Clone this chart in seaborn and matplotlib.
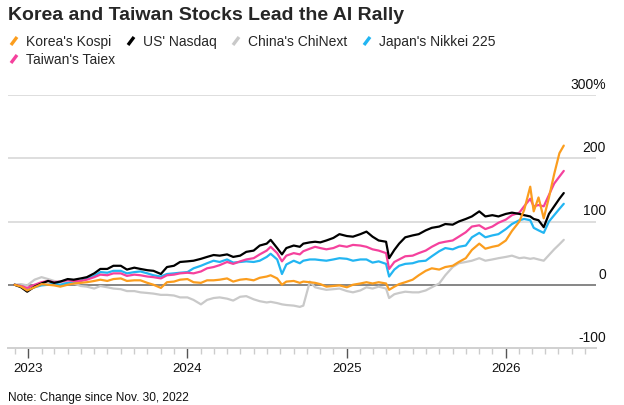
import matplotlib
matplotlib.use("Agg")
import matplotlib.pyplot as plt
import matplotlib.dates as mdates
from matplotlib.lines import Line2D
import pandas as pd
import seaborn as sns

# Change since Nov. 30, 2022, in percent
dates = [
    "2022-11-30", "2022-12-15", "2022-12-29", "2023-01-15", "2023-01-31", "2023-02-15",
    "2023-03-01", "2023-03-15", "2023-04-01", "2023-04-15", "2023-05-01", "2023-05-15",
    "2023-06-01", "2023-06-15", "2023-07-01", "2023-07-15", "2023-08-01", "2023-08-15",
    "2023-09-01", "2023-09-15", "2023-10-01", "2023-10-15", "2023-11-01", "2023-11-15",
    "2023-12-01", "2023-12-15", "2024-01-01", "2024-01-15", "2024-02-01", "2024-02-15",
    "2024-03-01", "2024-03-15", "2024-04-01", "2024-04-15", "2024-05-01", "2024-05-15",
    "2024-06-01", "2024-06-15", "2024-07-01", "2024-07-10", "2024-07-25", "2024-08-05",
    "2024-08-15", "2024-09-01", "2024-09-15", "2024-09-23", "2024-10-08", "2024-10-20",
    "2024-11-01", "2024-11-15", "2024-12-01", "2024-12-15", "2025-01-01", "2025-01-15",
    "2025-02-01", "2025-02-15", "2025-03-01", "2025-03-15", "2025-04-01", "2025-04-08",
    "2025-04-20", "2025-05-01", "2025-05-15", "2025-06-01", "2025-06-15", "2025-07-01",
    "2025-07-15", "2025-08-01", "2025-08-15", "2025-09-01", "2025-09-15", "2025-10-01",
    "2025-10-15", "2025-11-01", "2025-11-15", "2025-12-01", "2025-12-15", "2026-01-01",
    "2026-01-15", "2026-02-01", "2026-02-12", "2026-02-26", "2026-03-06", "2026-03-17",
    "2026-03-29", "2026-04-10", "2026-04-22", "2026-05-04", "2026-05-14",
]

nasdaq = [
    0, -4, -11, -3, 2, 6, 3, 5, 9, 8, 10, 12,
    18, 25, 25, 30, 30, 24, 27, 25, 23, 22, 17, 28,
    30, 36, 37, 38, 41, 44, 47, 46, 48, 44, 46, 52,
    54, 62, 65, 71, 58, 48, 58, 62, 60, 65, 67, 68,
    67, 70, 74, 80, 77, 76, 80, 84, 76, 70, 68, 42,
    55, 65, 75, 78, 80, 86, 90, 92, 96, 95, 100, 104,
    108, 116, 108, 110, 108, 112, 114, 112, 110, 108, 104, 102,
    91, 112, 124, 136, 145,
]

taiex = [
    0, -2, -5, 0, 4, 6, 4, 5, 7, 6, 6, 8,
    12, 16, 15, 18, 18, 14, 16, 15, 13, 12, 10, 15,
    16, 18, 19, 18, 21, 26, 28, 31, 36, 33, 37, 40,
    42, 48, 54, 60, 50, 37, 46, 50, 48, 53, 57, 60,
    58, 56, 58, 62, 60, 63, 62, 60, 56, 54, 50, 25,
    36, 40, 45, 46, 50, 54, 60, 66, 68, 70, 76, 83,
    92, 94, 88, 92, 98, 103, 110, 114, 124, 136, 124, 126,
    124, 142, 160, 171, 180,
]

nikkei = [
    0, -2, -8, -4, -1, 0, 2, 0, 3, 4, 6, 10,
    14, 20, 19, 22, 22, 18, 20, 21, 18, 15, 13, 17,
    18, 19, 20, 26, 30, 34, 38, 36, 40, 35, 36, 37,
    36, 38, 44, 49, 40, 17, 32, 38, 34, 38, 40, 40,
    39, 38, 40, 42, 41, 38, 40, 40, 35, 37, 33, 13,
    24, 30, 33, 34, 37, 38, 45, 53, 58, 56, 60, 62,
    75, 82, 75, 78, 80, 88, 96, 102, 104, 102, 90, 86,
    82, 100, 110, 120, 128,
]

kospi = [
    0, -3, -9, -4, 1, 0, -1, -3, 0, 2, 3, 4,
    6, 8, 6, 9, 10, 6, 7, 7, 3, 0, -5, 4,
    5, 8, 9, 4, 3, 7, 7, 8, 10, 5, 8, 9,
    7, 11, 13, 15, 10, 0, 5, 6, 3, 5, 4, 3,
    1, -3, -2, -1, -4, 0, 2, 4, 2, 4, 2, -8,
    -3, 1, 4, 8, 15, 22, 26, 24, 28, 30, 36, 42,
    55, 65, 57, 60, 62, 70, 85, 100, 118, 155, 116, 138,
    105, 138, 175, 208, 220,
]

chinext = [
    0, 1, -1, 8, 12, 9, 6, 4, 3, 2, -2, -3,
    -6, -2, -4, -6, -7, -10, -10, -12, -13, -14, -16, -16,
    -17, -20, -20, -24, -31, -24, -21, -20, -22, -25, -19, -18,
    -23, -26, -28, -27, -29, -31, -32, -33, -35, -33, 5, -4,
    -6, -8, -7, -6, -10, -12, -9, -4, -6, -3, -6, -21,
    -15, -13, -11, -12, -12, -9, -4, 2, 15, 28, 34, 36,
    38, 42, 38, 40, 42, 44, 46, 42, 43, 41, 42, 40,
    38, 47, 56, 64, 71,
]

legend_order = ["Korea's Kospi", "US' Nasdaq", "China's ChiNext", "Japan's Nikkei 225", "Taiwan's Taiex"]
draw_order = ["China's ChiNext", "Japan's Nikkei 225", "Taiwan's Taiex", "US' Nasdaq", "Korea's Kospi"]
palette = {
    "Korea's Kospi": "#fb9d1e",
    "US' Nasdaq": "#000000",
    "China's ChiNext": "#c9c9c9",
    "Japan's Nikkei 225": "#22b5f2",
    "Taiwan's Taiex": "#f5419d",
}

wide = pd.DataFrame({
    "date": pd.to_datetime(dates),
    "Korea's Kospi": kospi,
    "US' Nasdaq": nasdaq,
    "China's ChiNext": chinext,
    "Japan's Nikkei 225": nikkei,
    "Taiwan's Taiex": taiex,
})
df = wide.melt(id_vars="date", var_name="index", value_name="change")

sns.set_style("white")
plt.rcParams["font.family"] = ["Liberation Sans", "DejaVu Sans"]

W, H = 624, 406
fig = plt.figure(figsize=(W / 100, H / 100), dpi=100)
ax = fig.add_axes([8 / W, 1 - 349 / H, 588 / W, (349 - 96) / H])

# gridlines first so the series sit on top
for v in [100, 200, 300]:
    ax.axhline(v, color="#dedede", lw=1.4, zorder=0)
ax.axhline(0, color="#666666", lw=1.1, zorder=1)

sns.lineplot(data=df, x="date", y="change", hue="index", hue_order=draw_order,
             palette=palette, linewidth=1.6, legend=False, ax=ax, zorder=3)

ax.set_ylim(-100, 300)
ax.set_xlim(pd.Timestamp("2022-11-15"), pd.Timestamp("2026-07-27"))
ax.set_xlabel("")
ax.set_ylabel("")
ax.set_yticks([])

for s in ["top", "right", "left"]:
    ax.spines[s].set_visible(False)
ax.spines["bottom"].set_color("#d0d0d0")
ax.spines["bottom"].set_linewidth(1.4)

ax.xaxis.set_major_locator(mdates.YearLocator())
ax.xaxis.set_major_formatter(mdates.DateFormatter("%Y"))
ax.xaxis.set_minor_locator(mdates.MonthLocator())
ax.tick_params(axis="x", which="major", length=7, width=1, color="#555555",
               labelsize=9.5, pad=3, bottom=True, labelcolor="#111111")
ax.tick_params(axis="x", which="minor", length=4, width=1, color="#cccccc", bottom=True)

# right-side value labels sitting above their gridlines
ylabels = {300: "300%", 200: "200", 100: "100", 0: "0", -100: "-100"}
for v, lab in ylabels.items():
    ax.annotate(lab, xy=(1.017, v), xycoords=("axes fraction", "data"),
                xytext=(0, 3), textcoords="offset points",
                ha="right", va="bottom", fontsize=10, color="#111111")

fig.text(8 / W, 1 - 15 / H, "Korea and Taiwan Stocks Lead the AI Rally",
         fontsize=14, fontweight="bold", va="center", ha="left")

# legend with slanted swatches
legend_pos = {
    "Korea's Kospi": (10, 42),
    "US' Nasdaq": (127, 42),
    "China's ChiNext": (232, 42),
    "Japan's Nikkei 225": (363, 42),
    "Taiwan's Taiex": (10, 60),
}
for name in legend_order:
    px, py = legend_pos[name]
    fig.add_artist(Line2D([(px + 1) / W, (px + 7) / W], [1 - (py + 4) / H, 1 - (py - 4) / H],
                          color=palette[name], lw=2.4, solid_capstyle="butt"))
    fig.text((px + 16) / W, 1 - py / H, name, fontsize=10, va="center", ha="left")

fig.text(8 / W, 1 - 398 / H, "Note: Change since Nov. 30, 2022",
         fontsize=8.6, va="center", ha="left", color="#111111")

fig.savefig("out.png", dpi=100)
